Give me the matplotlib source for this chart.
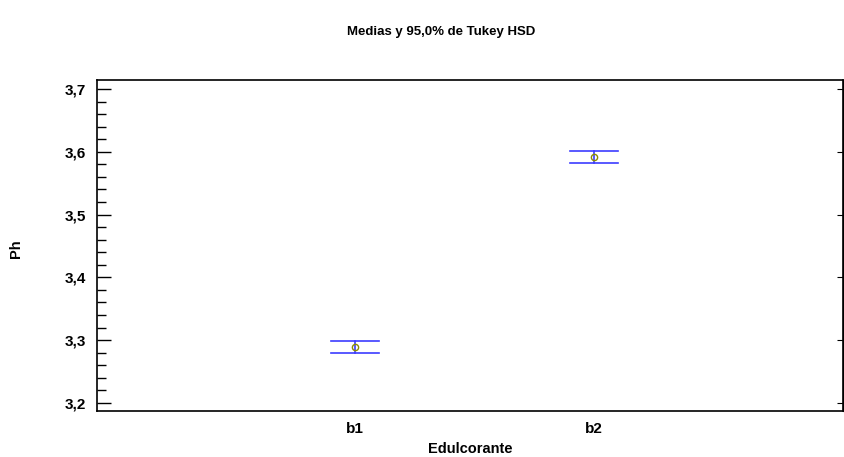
import matplotlib.pyplot as plt
from matplotlib.ticker import MultipleLocator, FuncFormatter

plt.rcParams['font.family'] = ['Liberation Sans', 'DejaVu Sans']
plt.rcParams['font.weight'] = 'bold'

# Tukey HSD intervals for Ph by sweetener
groups = ['b1', 'b2']
means = [3.289, 3.592]
lower = [3.279, 3.582]
upper = [3.299, 3.601]

fig = plt.figure(figsize=(8.44, 4.57), dpi=100)
ax = fig.add_axes([97 / 844, 1 - 411 / 457, 746 / 844, 331 / 457])

blue = '#3c3cff'
olive = '#8c8c00'
xs = [1, 2]
cap = 0.1
for x, m, lo, hi in zip(xs, means, lower, upper):
    ax.plot([x, x], [lo, hi], color=blue, lw=1.2, zorder=2)
    ax.plot([x - cap, x + cap], [hi, hi], color=blue, lw=1.2, zorder=2)
    ax.plot([x - cap, x + cap], [lo, lo], color=blue, lw=1.2, zorder=2)
    ax.plot([x], [m], marker='o', ms=4.5, mfc='none', mec=olive, mew=1.0, zorder=3)

ax.set_xlim(-0.08, 3.04)
ax.set_ylim(3.187, 3.7144)
ax.set_xticks(xs)
ax.set_xticklabels(groups)
ax.yaxis.set_major_locator(MultipleLocator(0.1))
ax.yaxis.set_minor_locator(MultipleLocator(0.02))
ax.yaxis.set_major_formatter(FuncFormatter(lambda v, p: f'{v:.1f}'.replace('.', ',')))

ax.tick_params(axis='x', length=0, pad=8, labelsize=11)
ax.tick_params(axis='y', which='major', direction='in', length=10, width=1, labelsize=11, pad=8)
ax.tick_params(axis='y', which='minor', direction='in', length=6.5, width=1)
for s in ax.spines.values():
    s.set_linewidth(1.2)

# right side keeps only short major ticks
sec = ax.secondary_yaxis('right')
sec.yaxis.set_major_locator(MultipleLocator(0.1))
sec.tick_params(direction='in', length=4.5, labelright=False)

fig.text(470 / 844, 1 - 449 / 457, 'Edulcorante', ha='center', va='center',
         fontsize=10.5, fontweight='bold')
fig.text(16 / 844, 1 - 249 / 457, 'Ph', ha='center', va='center', rotation=90,
         fontsize=10.5, fontweight='bold')
fig.text(441 / 844, 1 - 32 / 457, 'Medias y 95,0% de Tukey HSD', ha='center', va='center',
         fontsize=9.5, fontweight='bold')

fig.savefig('out.png', dpi=100)
